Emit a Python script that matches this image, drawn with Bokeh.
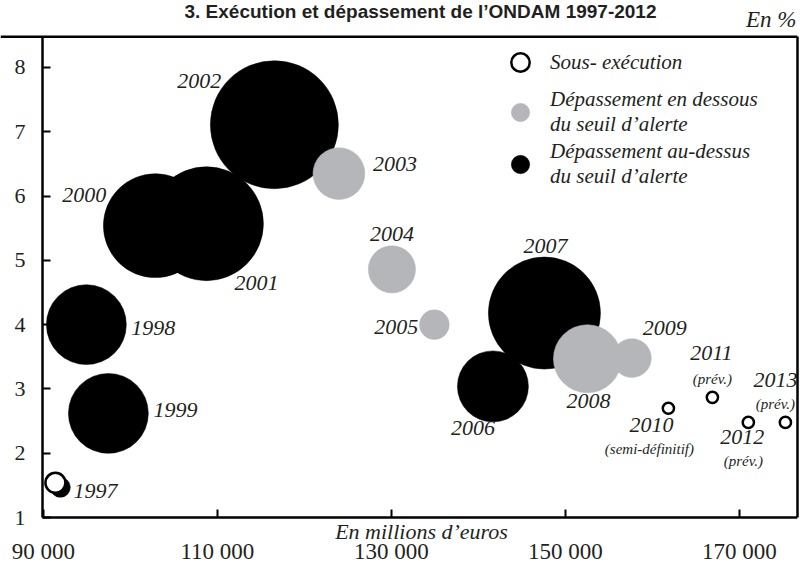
from bokeh.plotting import figure
from bokeh.models import (ColumnDataSource, Range1d, FixedTicker, Label, Legend,
                          LegendItem, LinearAxis, Span)
from bokeh.core.properties import value
from bokeh.embed import file_html
from bokeh.resources import INLINE
import math

# ---------------- data ----------------
annees = ["1997", "1998", "1999", "2000", "2001", "2002", "2003", "2004", "2005",
          "2006", "2007", "2008", "2009", "2010", "2011", "2012", "2013"]
ondam = [91380, 94940, 97470, 102870, 108740, 116550, 123970, 130060, 134940,
         141670, 147590, 152530, 157640, 161840, 166900, 171030, 175290]
taux = [1.54, 4.00, 2.62, 5.54, 5.57, 7.11, 6.35, 4.86, 4.00,
        3.04, 4.18, 3.47, 3.48, 2.70, 2.87, 2.48, 2.48]
ampleur = [0.095, 1.52, 1.52, 2.57, 3.09, 3.90, 0.64, 0.53, 0.21,
           1.20, 2.99, 1.10, 0.36, 0.030, 0.030, 0.030, 0.030]
categorie = ["sous", "haut", "haut", "haut", "haut", "haut", "bas", "bas", "bas",
             "haut", "haut", "bas", "bas", "sous", "sous", "sous", "sous"]
precisions = ["", "", "", "", "", "", "", "", "", "", "", "", "",
              "(semi-définitif)", "(prév.)", "(prév.)", "(prév.)"]
# second disc drawn under 1997
ombre_ondam = [91950]
ombre_taux = [1.47]
ombre_ampleur = [0.095]

x_ticks = [90000, 110000, 130000, 150000, 170000]
x_tick_labels = ["90 000", "110 000", "130 000", "150 000", "170 000"]
y_ticks = [1, 2, 3, 4, 5, 6, 7, 8]

# label offsets (screen px, relative to bubble centre)
lab_dx = [40, 67, 67, -71, 50, -75, 56, 0, -38, -20, 1, 1, 33, -17, -1, -6, -10]
lab_dy = [8, 3, -3, -31, 59, -44, -10, -35, 2, 42, -67, 42, -30, 17, -44, 15, -42]
sub_dx = [0] * 13 + [-19, 0, -5, -10]
sub_dy = [0] * 13 + [41, -18, 39, -18]

# ---------------- figure ----------------
W, H = 800, 563
X_MIN, X_MAX = 89900, 176680     # drawn box spans these values
Y_MIN, Y_BOX = 1, 8.48
X_START = 85070                  # frame covers the whole canvas width ...
Y_START, Y_END = 0.285, 9.042    # ... and height, so that texts are not clipped
p = figure(width=W, height=H, output_backend="svg", toolbar_location=None,
           x_range=Range1d(X_START, X_MAX), y_range=Range1d(Y_START, Y_END),
           min_border_left=0, min_border_right=3, min_border_top=0,
           min_border_bottom=0)
p.background_fill_color = "white"
p.border_fill_color = "white"
p.grid.visible = False
p.outline_line_color = None

SERIF = "Liberation Serif"
INK = "#231f20"
K = 128.0 / math.sqrt(3.9)  # diameter scale (px per sqrt unit)


def sub(cat):
    return [i for i, c in enumerate(categorie) if c == cat]


def make_source(idx, extra=None):
    d = dict(x=[ondam[i] for i in idx], y=[taux[i] for i in idx],
             size=[K * math.sqrt(ampleur[i]) for i in idx])
    if extra:
        d["x"] += extra[0]
        d["y"] += extra[1]
        d["size"] += [K * math.sqrt(a) for a in extra[2]]
    return ColumnDataSource(d)


src_haut = make_source(sub("haut"), (ombre_ondam, ombre_taux, ombre_ampleur))
src_bas = make_source(sub("bas"))
src_sous = make_source(sub("sous"))

r_haut = p.scatter("x", "y", size="size", source=src_haut, fill_color="#000000",
                   line_color="#000000", line_width=0.5)
r_bas = p.scatter("x", "y", size="size", source=src_bas, fill_color="#b5b6b9",
                  line_color="#b5b6b9", line_width=0.5)
r_sous = p.scatter("x", "y", size="size", source=src_sous, fill_color="white",
                   line_color="black", line_width=2.5)

lab_src = ColumnDataSource(dict(x=ondam, y=taux, t=annees, dx=lab_dx, dy=lab_dy))
p.text("x", "y", text="t", x_offset="dx", y_offset="dy", source=lab_src,
       text_align="center", text_baseline="middle", text_font=value(SERIF),
       text_font_style="italic", text_font_size="22px", text_color=INK)

ip = [i for i, s in enumerate(precisions) if s]
sub_src = ColumnDataSource(dict(x=[ondam[i] for i in ip], y=[taux[i] for i in ip],
                                t=[precisions[i] for i in ip],
                                dx=[sub_dx[i] for i in ip], dy=[sub_dy[i] for i in ip]))
p.text("x", "y", text="t", x_offset="dx", y_offset="dy", source=sub_src,
       text_align="center", text_baseline="middle", text_font=value(SERIF),
       text_font_style="italic", text_font_size="15px", text_color=INK)

# ---------------- axes ----------------
xa = p.xaxis[0]
ya = p.yaxis[0]
for ax in (xa, ya):
    ax.axis_line_width = 2.5
    ax.axis_line_color = "black"
    ax.major_tick_in = 8
    ax.major_tick_out = 0
    ax.major_tick_line_width = 2
    ax.minor_tick_line_color = None
    ax.major_label_text_font = SERIF
    ax.major_label_text_font_size = "22px"
    ax.major_label_text_color = INK

xa.fixed_location = Y_MIN
xa.bounds = (X_MIN, X_MAX)
xa.ticker = FixedTicker(ticks=x_ticks)
xa.major_label_overrides = {t: l for t, l in zip(x_ticks, x_tick_labels)}
xa.major_label_text_font_size = "23px"
xa.major_label_standoff = 21

ya.fixed_location = X_MIN
ya.ticker = FixedTicker(ticks=y_ticks)
ya.bounds = (Y_MIN, Y_BOX)
ya.major_label_standoff = 17

# right and top sides of the box
yr = LinearAxis(ticker=FixedTicker(ticks=[]), bounds=(Y_MIN, Y_BOX),
                axis_line_width=2.5, axis_line_color="black",
                major_tick_line_color=None, minor_tick_line_color=None,
                major_tick_in=0, major_tick_out=0, major_label_standoff=0)
p.add_layout(yr, "right")
p.add_layout(Span(location=Y_BOX, dimension="width", line_color="black",
                  line_width=2.5))

# ---------------- legend ----------------
legend = Legend(items=[
    LegendItem(label="Sous- exécution", renderers=[r_sous]),
    LegendItem(label="Dépassement en dessous\ndu seuil d’alerte", renderers=[r_bas]),
    LegendItem(label="Dépassement au-dessus\ndu seuil d’alerte", renderers=[r_haut]),
], location=(497, H - 189))
legend.border_line_color = None
legend.background_fill_alpha = 0
legend.label_text_font = SERIF
legend.label_text_font_style = "italic"
legend.label_text_font_size = "21px"
legend.label_text_color = INK
legend.label_text_line_height = 0.9
legend.glyph_width = 46
legend.glyph_height = 46
legend.spacing = 2
legend.padding = 0
legend.margin = 0
legend.label_standoff = 7
p.add_layout(legend)

# ---------------- texts (screen units relative to the frame) ----------------
p.add_layout(Label(x=420, y=H - 11, x_units="screen", y_units="screen",
                   text="3. Exécution et dépassement de l’ONDAM 1997-2012",
                   text_font="Liberation Sans", text_font_style="bold",
                   text_font_size="19px", text_color=INK,
                   text_baseline="alphabetic", text_align="center"))
p.add_layout(Label(x=796, y=H - 19, x_units="screen", y_units="screen",
                   text="En %", text_font=SERIF, text_font_style="italic",
                   text_font_size="23px", text_color=INK,
                   text_baseline="alphabetic", text_align="right"))
p.add_layout(Label(x=421, y=H - 531, x_units="screen", y_units="screen",
                   text="En millions d’euros", text_font=SERIF,
                   text_font_style="italic", text_font_size="22px",
                   text_color=INK, text_baseline="middle", text_align="center"))

open("out.html", "w").write(file_html(p, INLINE))
